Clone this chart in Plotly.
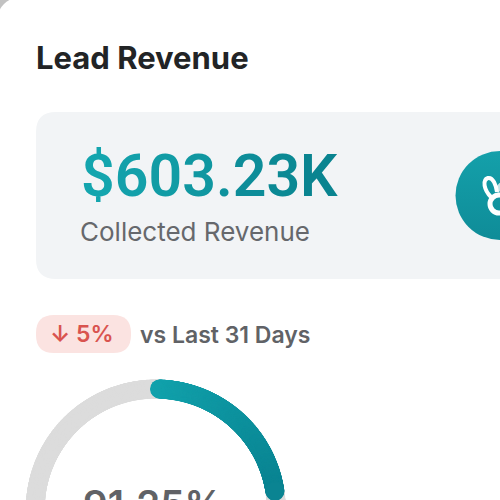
import numpy as np
import plotly.graph_objects as go

TITLE = "Lead Revenue"
KPI_VALUE = "$603.23K"
KPI_LABEL = "Collected Revenue"
DELTA_LABEL = "↓ 5%"
COMPARE_LABEL = "vs Last 31 Days"
GAUGE_LABEL = "91.25%"
GAUGE_TURN_START = 0.005
GAUGE_TURN_END = 0.226

W = 500
CX, CY, R = 155.75, 509.5, 120.5


def mix(a, b, t):
    a = [int(a[i:i + 2], 16) for i in (1, 3, 5)]
    b = [int(b[i:i + 2], 16) for i in (1, 3, 5)]
    return "#%02x%02x%02x" % tuple(round(p + (q - p) * t) for p, q in zip(a, b))


def gradient_text(s, a, b):
    n = max(len(s) - 1, 1)
    return "".join(f'<span style="color:{mix(a, b, i / n)}">{c}</span>' for i, c in enumerate(s))


def rrect(x0, y0, x1, y1, r):
    return (f"M{x0 + r},{y0} L{x1 - r},{y0} Q{x1},{y0} {x1},{y0 + r} L{x1},{y1 - r} Q{x1},{y1} {x1 - r},{y1} "
            f"L{x0 + r},{y1} Q{x0},{y1} {x0},{y1 - r} L{x0},{y0 + r} Q{x0},{y0} {x0 + r},{y0} Z")


def ring(t0, t1, n):
    th = np.linspace(t0, t1, n) * 2 * np.pi
    return CX + R * np.sin(th), CY - R * np.cos(th)


fig = go.Figure()

# track
tx, ty = ring(0, 1, 900)
fig.add_trace(go.Scatter(x=tx, y=ty, mode="markers", hoverinfo="skip", showlegend=False,
                         marker=dict(size=19, color="#dcdcdc", line=dict(width=0))))
# value arc
ax, ay = ring(GAUGE_TURN_START, GAUGE_TURN_END, 300)
fig.add_trace(go.Scatter(x=ax, y=ay, mode="markers", hoverinfo="skip", showlegend=False,
                         marker=dict(size=19, color=np.linspace(0, 1, 300),
                                     colorscale=[[0, "#12a2ac"], [1, "#0a8492"]],
                                     line=dict(width=0), showscale=False)))
# icon disc
fig.add_trace(go.Scatter(x=[500], y=[195.5], mode="markers", hoverinfo="skip", showlegend=False,
                         marker=dict(size=89, color="#14a0aa",
                                     gradient=dict(type="vertical", color="#0f8c98"),
                                     line=dict(width=0))))

shapes = [
    dict(type="path", path=rrect(-4, -4, 560, 560, 32), fillcolor="#ffffff", line_width=0, layer="below"),
    dict(type="path", path=rrect(36, 112, 560, 279, 20), fillcolor="#f2f4f6", line_width=0, layer="below"),
    dict(type="path", path=rrect(36, 315, 131, 353, 18), fillcolor="#fbe3e1", line_width=0, layer="below"),
    # icon glyph
    dict(type="circle", x0=490, x1=508, y0=195, y1=213, line=dict(color="#ffffff", width=5), layer="above"),
    dict(type="path", path="M491,197 C484,190 482,180 488,178 C493,177 496,185 497,192",
         line=dict(color="#ffffff", width=4), layer="above"),
    dict(type="path", path="M496,189 Q497,183 503,181 Q503,189 498,193 Z",
         fillcolor="rgba(255,255,255,0.75)", line_width=0, layer="above"),
]

ann = [
    dict(x=34, y=57, text=TITLE, font=dict(family="Inter", size=31, color="#222426", weight=700)),
    dict(x=79, y=175, text=gradient_text(KPI_VALUE, "#14a5ae", "#0a8490"),
         font=dict(family="Roboto", size=59, weight=600)),
    dict(x=78, y=231, text=KPI_LABEL, font=dict(family="Inter", size=26, color="#66686c", weight=400)),
    dict(x=48, y=334, text=DELTA_LABEL, font=dict(family="Inter", size=23, color="#d9534f", weight=600)),
    dict(x=138, y=335, text=COMPARE_LABEL, font=dict(family="Inter", size=23, color="#606266", weight=600)),
    dict(x=153, y=479, text=GAUGE_LABEL, font=dict(family="Inter", size=38.5, color="#606266", weight=600)),
]
for a in ann:
    a.update(xref="x", yref="y", xanchor="left", yanchor="middle", showarrow=False)
ann[-1].update(xanchor="center", yanchor="top")

fig.update_layout(
    width=W, height=W, margin=dict(l=0, r=0, t=0, b=0), autosize=False,
    paper_bgcolor="#c2c2c2", plot_bgcolor="rgba(0,0,0,0)",
    xaxis=dict(range=[0, W], visible=False, fixedrange=True),
    yaxis=dict(range=[W, 0], visible=False, fixedrange=True),
    shapes=shapes, annotations=ann, showlegend=False,
)

fig.write_html("out.html", config=dict(displayModeBar=False),
               post_script="document.body.style.margin='0';document.body.style.overflow='hidden';")
